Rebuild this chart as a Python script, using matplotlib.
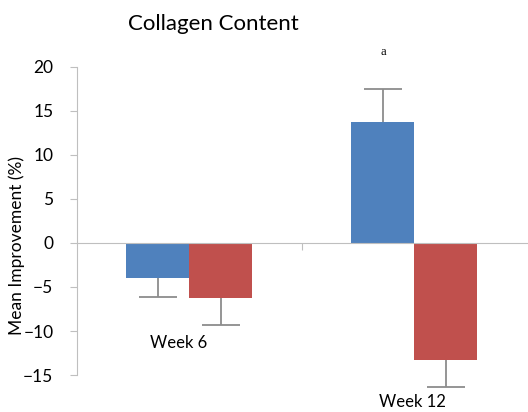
import matplotlib.pyplot as plt
import numpy as np

weeks = ["Week 6", "Week 12"]
group_a = [-4.0, 13.8]
group_a_err = [2.1, 3.7]
group_b = [-6.2, -13.3]
group_b_err = [3.1, 3.1]
label_x = [-0.05, 0.99]
label_y = [-11.4, -18.1]

blue = "#4F81BD"
red = "#C0504D"
grey = "#BFBFBF"
font = "Lato"

fig = plt.figure(figsize=(5.28, 4.12), dpi=100)
ax = fig.add_axes([0.1458, 0.0898, 0.852, 0.7476])

x = np.arange(len(weeks))
w = 0.28
cap = 0.085

ax.bar(x - w / 2, group_a, width=w, color=blue)
ax.bar(x + w / 2, group_b, width=w, color=red)

# one-sided error bars pointing away from zero, cap only at the far end
for xs, vals, errs in [(x - w / 2, group_a, group_a_err), (x + w / 2, group_b, group_b_err)]:
    for xi, v, e in zip(xs, vals, errs):
        end = v + e if v >= 0 else v - e
        ax.vlines(xi, v, end, color="#8C8C8C", lw=1.3, clip_on=False)
        ax.hlines(end, xi - cap, xi + cap, color="#8C8C8C", lw=1.3, clip_on=False)

ax.set_xlim(-0.5, 1.5)
ax.set_ylim(-15, 20)
ax.set_yticks([-15, -10, -5, 0, 5, 10, 15, 20])

for s in ["top", "right"]:
    ax.spines[s].set_visible(False)
ax.spines["left"].set_color(grey)
ax.spines["bottom"].set_color(grey)
ax.spines["bottom"].set_position(("data", 0))
ax.set_xticks([0.5])
ax.set_xticklabels([""])
ax.tick_params(axis="x", length=5, color=grey, direction="out")
ax.tick_params(axis="y", length=5, color=grey, labelsize=12.5, labelcolor="black", pad=12)
for lbl in ax.get_yticklabels():
    lbl.set_fontfamily(font)

for lx, name, ly in zip(label_x, weeks, label_y):
    ax.text(lx, ly, name, ha="center", va="center", fontsize=12,
            family=font, clip_on=False)

ax.set_ylabel("Mean Improvement (%)", fontsize=12.5, family=font)
ax.yaxis.set_label_coords(-0.116, 0.422)
fig.text(0.404, 0.942, "Collagen Content", ha="center", va="center",
         fontsize=16, family=font)
ax.text(x[1] - w / 2, 21.7, "a", ha="center", va="center", fontsize=9,
        family="Liberation Serif", clip_on=False)

fig.savefig("out.png", dpi=100)
